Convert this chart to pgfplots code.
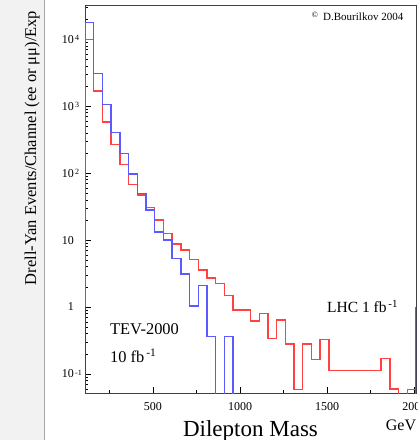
\documentclass[border=0pt]{standalone}
\usepackage{pgfplots}
\pgfplotsset{compat=1.18}
\usepackage{fontspec}
\setmainfont{Liberation Serif}
\definecolor{histblue}{RGB}{90,90,255}
\definecolor{histred}{RGB}{255,65,65}
\newcommand\fsz[1]{\fontsize{#1}{#1}\selectfont}
\newcommand\expo[1]{\raisebox{0.5ex}{\fontsize{8bp}{8bp}\selectfont\,#1}}

\begin{document}
\begin{tikzpicture}
% scanned strip on the left
\fill[black!5] (0,0) rectangle (44bp,440bp);
\draw[black!35, line width=0.8bp] (44bp,0) -- (44bp,440bp);

\begin{axis}[
    at={(85bp,46.7bp)}, anchor=south west,
    scale only axis, width=331bp, height=387.3bp,
    ymode=log,
    xmin=110, xmax=2010, ymin=0.0514, ymax=31500,
    axis line style={black!75, line width=1bp},
    tick align=inside, xtick pos=bottom, ytick pos=left,
    major tick length=6bp, minor tick length=3bp,
    tick style={black, line width=0.6bp},
    xtick={500,1000,1500,2000},
    minor xtick={250,750,1250,1750},
    xticklabels={500,1000,1500,2000},
    xticklabel style={font=\fsz{12bp}, anchor=north, inner sep=0pt, yshift=-9.5bp},
    ytick={0.1,1,10,100,1000,10000},
    minor ytick={0.06,0.07,0.08,0.09,
        0.2,0.3,0.4,0.5,0.6,0.7,0.8,0.9,
        2,3,4,5,6,7,8,9,
        20,30,40,50,60,70,80,90,
        200,300,400,500,600,700,800,900,
        2000,3000,4000,5000,6000,7000,8000,9000,
        20000,30000},
    yticklabels={10\rlap{\expo{-1}},1,10,10\rlap{\expo{2}},10\rlap{\expo{3}},10\rlap{\expo{4}}},
    yticklabel style={font=\fsz{12bp}, anchor=east, inner sep=0pt, xshift=-11bp},
]
% LHC 1 fb^-1
\addplot[const plot, histred, line width=1.4bp] coordinates {
    (110,1) (110,10000) (160,1690) (210,583) (260,271) (310,136)
    (360,68) (410,47) (460,31) (510,20) (560,12.6) (610,8.7)
    (660,7.1) (710,5.1) (760,3.6) (810,2.7) (860,2.26) (910,1.5)
    (960,0.9) (1010,0.9) (1060,0.62) (1110,0.8) (1160,0.34) (1210,0.64)
    (1260,0.28) (1310,0.058) (1360,0.28) (1410,0.166) (1460,0.33) (1510,0.112)
    (1560,0.112) (1610,0.112) (1660,0.112) (1710,0.112) (1760,0.112) (1810,0.171)
    (1860,0.06) (1910,0.045) (1960,0.058) (2010,0.058)};
% TEV-2000 10 fb^-1
\addplot[const plot, histblue, line width=1.4bp] coordinates {
    (110,1) (110,18000) (160,3075) (210,1070) (260,405) (310,197)
    (360,97) (410,50) (460,28) (510,13.3) (560,10) (610,5.3)
    (660,3.1) (710,1.03) (760,2.1) (810,0.36) (860,0.04) (910,0.36)
    (960,0.04) (1460,0.04) (2010,0.04) (2010,1)};
\end{axis}

% texts
\node[rotate=90, anchor=base, font=\fsz{16.5bp}] at (36bp,292bp)
    {Drell-Yan Events/Channel (ee or μμ)/Exp};
\node[anchor=base, font=\fsz{23bp}] at (250.5bp,4bp) {Dilepton Mass};
\node[anchor=base, font=\fsz{16bp}] at (401bp,10bp) {GeV};
\node[anchor=base west, font=\fsz{16.4bp}, inner sep=0pt] at (110bp,105bp) {TEV-2000};
\node[anchor=base west, font=\fsz{16.4bp}, inner sep=0pt] at (110bp,77bp) {10 fb\textsuperscript{\,-1}};
\node[anchor=base west, font=\fsz{15.5bp}, inner sep=0pt] at (327bp,127bp) {LHC 1 fb\textsuperscript{\,-1}};
\node[font=\fsz{8bp}, inner sep=0pt] at (315bp,425bp) {©};
\node[anchor=base west, font=\fsz{11bp}, inner sep=0pt] at (323bp,419bp) {D.Bourilkov 2004};

\pgfresetboundingbox
\path[use as bounding box] (0,0) rectangle (418bp,440bp);
\end{tikzpicture}
\end{document}
